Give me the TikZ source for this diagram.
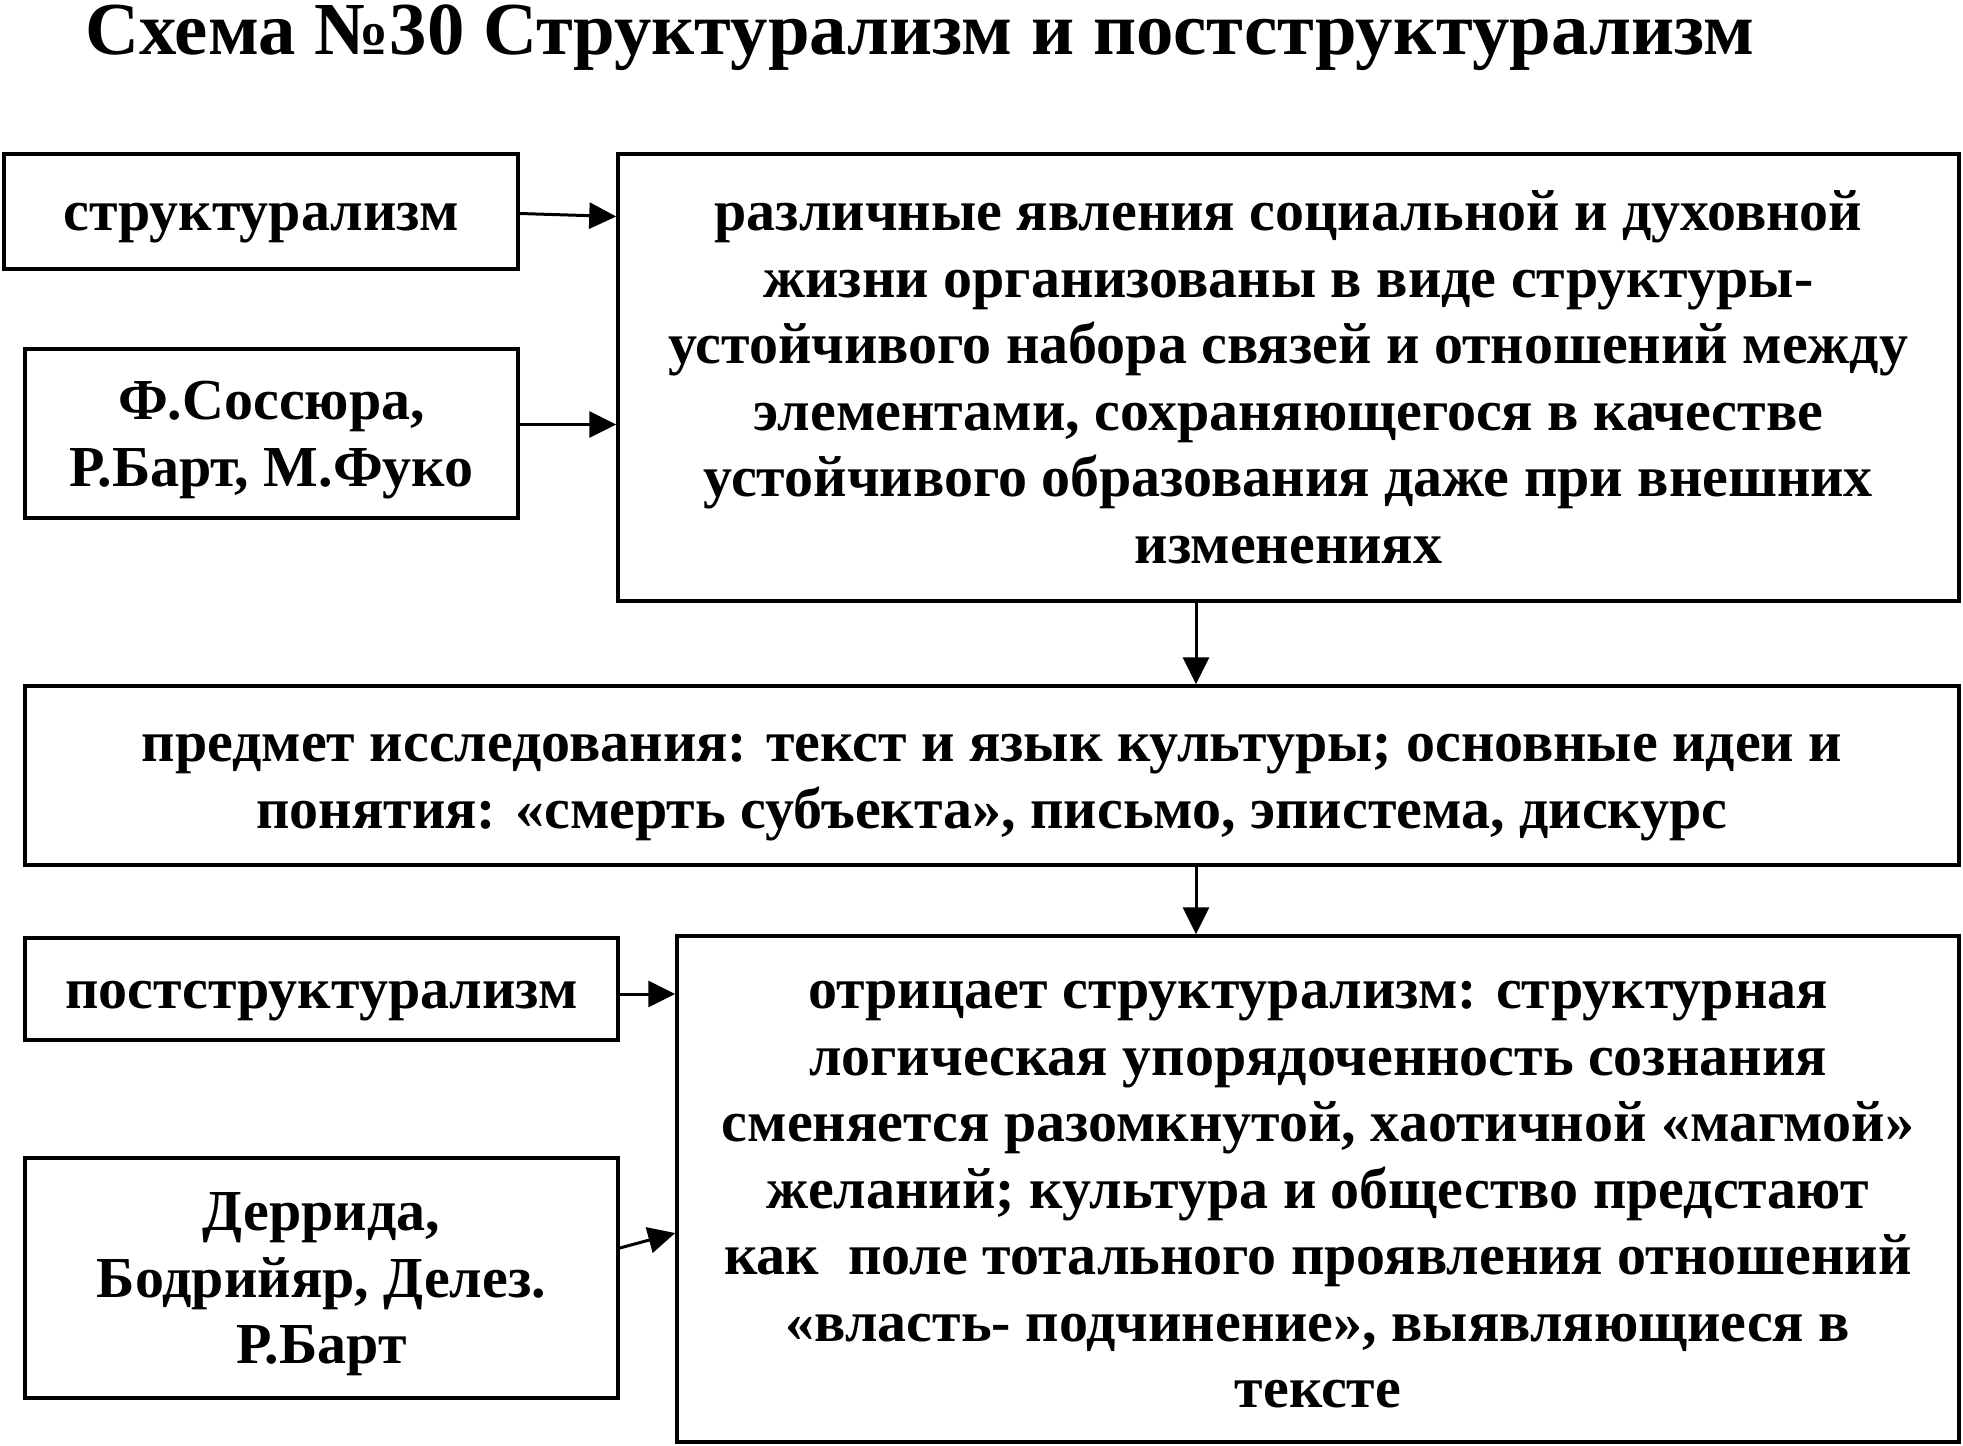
\documentclass[tikz,border=0pt]{standalone}
\usepackage{fontspec}
\setmainfont{Liberation Serif}
\usetikzlibrary{arrows.meta}
\newcommand\boxfont{\fontsize{58}{66.5}\selectfont\bfseries}
\newcommand\titlefont{\fontsize{74.8}{85}\selectfont\bfseries}
\newcommand\btext[1]{\raisebox{-6pt}[\height][\depth]{\begin{tabular}{@{}c@{}}#1\end{tabular}}}
\begin{document}
\begin{tikzpicture}[x=1pt,y=-1pt,
  box/.style={draw, line width=3.5pt, inner sep=0pt, font=\boxfont},
  arr/.style={-{Triangle[length=27pt,width=26pt]}, line width=3pt}]
\useasboundingbox[fill=white] (0,0) rectangle (1963,1446);
\node[anchor=base west, font=\titlefont, inner sep=0pt] (title) at (85,54) {Схема №30 Структурализм и постструктурализм};
\node[box, minimum width=514pt, minimum height=115pt] (b1) at (261,211.5) {\btext{структурализм}};
\node[box, minimum width=493pt, minimum height=169pt] (b2) at (271.5,433.5) {\btext{Ф.Соссюра,\\Р.Барт, М.Фуко}};
\node[box, minimum width=1341pt, minimum height=447pt] (b3) at (1288.5,377.5) {\btext{различные явления социальной и духовной\\жизни организованы в виде структуры-\\устойчивого набора связей и отношений между\\элементами, сохраняющегося в качестве\\устойчивого образования даже при внешних\\изменениях}};
\node[box, minimum width=1934pt, minimum height=179pt] (b4) at (992,775.5) {\btext{предмет исследования: текст и язык культуры; основные идеи и\\понятия: «смерть субъекта», письмо, эпистема, дискурс}};
\node[box, minimum width=593pt, minimum height=102pt] (b5) at (321.5,989) {\btext{постструктурализм}};
\node[box, minimum width=593pt, minimum height=240pt] (b6) at (321.5,1278) {\btext{Деррида,\\Бодрийяр, Делез.\\Р.Барт}};
\node[box, minimum width=1282pt, minimum height=506pt] (b7) at (1318,1189) {\btext{отрицает структурализм: структурная\\логическая упорядоченность сознания\\сменяется разомкнутой, хаотичной «магмой»\\желаний; культура и общество предстают\\как~~поле тотального проявления отношений\\«власть- подчинение», выявляющиеся в\\тексте}};
\coordinate (ax) at (1196,0);
\draw[arr] ([yshift=-2pt]b1.east) -- ([yshift=-5pt]b1.east -| b3.west);
\draw[arr] ([yshift=9pt]b2.east) -- ([yshift=9pt]b2.east -| b3.west);
\draw[arr] (b3.south -| ax) -- (b4.north -| ax);
\draw[arr] (b4.south -| ax) -- (b7.north -| ax);
\draw[arr] ([yshift=-5pt]b5.east) -- ([yshift=-5pt]b5.east -| b7.west);
\draw[arr] ([yshift=30pt]b6.east) -- ([yshift=45pt]b6.east -| b7.west);
\end{tikzpicture}
\end{document}
